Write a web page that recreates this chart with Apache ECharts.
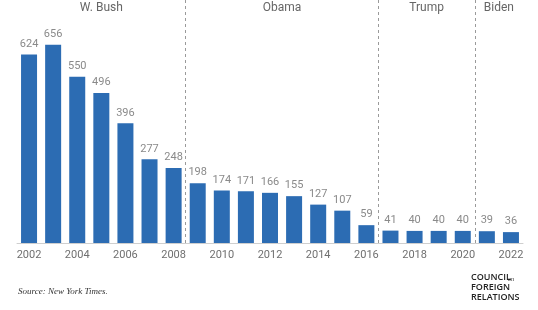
<!DOCTYPE html>
<html>
<head>
<meta charset="utf-8">
<script src="https://cdn.jsdelivr.net/npm/echarts@6/dist/echarts.min.js"></script>
<style>
  html, body { margin: 0; padding: 0; background: #fff; }
  #chart { width: 538px; height: 310px; }
</style>
</head>
<body>
<div id="chart"></div>
<script>
const years = ['2002','2003','2004','2005','2006','2007','2008','2009','2010','2011','2012','2013','2014','2015','2016','2017','2018','2019','2020','2021','2022']
const values = [624, 656, 550, 496, 396, 277, 248, 198, 174, 171, 166, 155, 127, 107, 59, 41, 40, 40, 40, 39, 36]
const terms = [
  { name: 'W. Bush', from: 2001.5, to: 2008.5 },
  { name: 'Obama', from: 2008.5, to: 2016.5 },
  { name: 'Trump', from: 2016.5, to: 2020.5 },
  { name: 'Biden', from: 2020.5, to: 2022.5 },
]
const dividers = [2008.5, 2016.5, 2020.5]

const chart = echarts.init(document.getElementById('chart'))
chart.setOption({
  animation: false,
  textStyle: { fontFamily: 'Roboto, sans-serif' },
  grid: { left: 17, right: 15, top: 0, bottom: 67 },
  xAxis: [
    {
      type: 'category', data: years,
      axisLine: { lineStyle: { color: '#cfcfcf' } },
      axisTick: { show: false },
      axisLabel: { interval: 1, color: '#6f6f6f', fontSize: 11, margin: 7 },
    },
    { type: 'value', min: 2001.5, max: 2022.5, show: false },
  ],
  yAxis: { type: 'value', min: 0, max: 804, show: false, splitLine: { show: false } },
  series: [
    {
      type: 'bar', data: values, barWidth: 16,
      itemStyle: { color: '#2c6cb3' },
      label: { show: true, position: 'top', distance: 5, color: '#8a8a8a', fontSize: 11 },
    },
    {
      type: 'line', xAxisIndex: 1, data: [],
      markLine: {
        silent: true, symbol: 'none',
        lineStyle: { color: '#9a9a9a', type: [3, 3], width: 1 },
        label: { show: false },
        data: dividers.map(d => ({ xAxis: d })),
      },
      markArea: {
        silent: true,
        itemStyle: { color: 'transparent' },
        label: { position: 'insideTop', distance: 2, color: '#666', fontSize: 12 },
        data: terms.map(t => [{ name: t.name, xAxis: t.from }, { xAxis: t.to }]),
      },
    },
  ],
  graphic: [
    { type: 'text', left: 18, top: 287, style: { text: 'Source: New York Times.', font: 'italic 9px "Liberation Serif", serif', fill: '#333' } },
    { type: 'text', left: 471, top: 273, style: { text: 'COUNCIL', font: '600 9px "Open Sans", sans-serif', fill: '#222' } },
    { type: 'text', left: 508, top: 276, style: { text: 'on', font: 'italic 6px serif', fill: '#222' } },
    { type: 'text', left: 471, top: 283, style: { text: 'FOREIGN', font: '600 9px "Open Sans", sans-serif', fill: '#222' } },
    { type: 'text', left: 471, top: 293, style: { text: 'RELATIONS', font: '600 9px "Open Sans", sans-serif', fill: '#222' } },
  ],
})
</script>
</body>
</html>
